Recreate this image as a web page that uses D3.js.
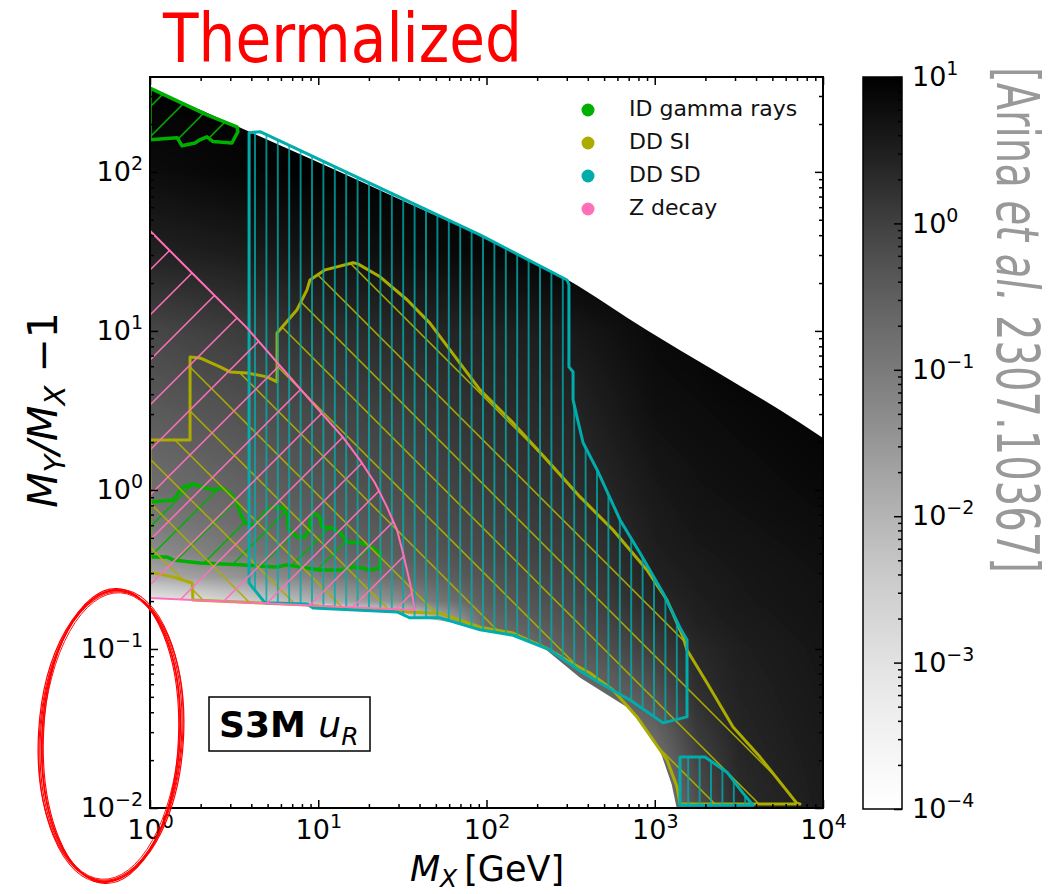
<!DOCTYPE html>
<html>
<head>
<meta charset="utf-8">
<script src="https://cdn.jsdelivr.net/npm/d3@7"></script>
<style>
  body { margin: 0; background: #fff; }
  svg { display: block; }
  text { font-family: "DejaVu Sans", sans-serif; }
</style>
</head>
<body>
<div id="chart-area"></div>
<script>
// axes
const xDomain = [1, 1e4]
const yDomain = [0.01, 395]
const cbDomain = [1e-4, 10]
const xMajor = [1, 10, 100, 1000, 10000]
const yMajor = [0.01, 0.1, 1, 10, 100]
const cbMajor = [1e-4, 1e-3, 1e-2, 1e-1, 1, 10]

// shading: grid in (M_X, M_Y/M_X - 1), values are log10 of the colour quantity
const fieldMx = [1, 3.16, 10, 31.6, 100, 316, 1000, 1778, 3162, 10000]
const fieldMy = [0.01, 0.0178, 0.0316, 0.0562, 0.1, 0.141, 0.2, 0.282, 0.398, 0.631, 1, 3.16, 10, 31.6, 100, 398]
const fieldExp = [
    [-4, -4, -4, -4, -4, -4, -1.2, -0.25, 0.3, 0.55],
    [-4, -4, -4, -4, -4, -4, -0.9, -0.1, 0.35, 0.57],
    [-4, -4, -4, -4, -4, -1.2, -0.6, 0.1, 0.4, 0.6],
    [-4, -4, -4, -4, -1.5, -0.8, -0.25, 0.25, 0.45, 0.62],
    [-4, -4, -4, -4, -1.0, -0.45, 0.05, 0.35, 0.5, 0.65],
    [-4, -4, -4, -3.5, -0.7, -0.3, 0.2, 0.45, 0.55, 0.68],
    [-3.2, -2.6, -1.9, -1.3, -0.45, -0.15, 0.35, 0.5, 0.6, 0.7],
    [-1.85, -1.5, -1.1, -0.7, -0.3, -0.05, 0.45, 0.55, 0.62, 0.72],
    [-1.35, -1.0, -0.7, -0.45, -0.15, 0.05, 0.5, 0.6, 0.65, 0.75],
    [-1.0, -0.75, -0.5, -0.3, -0.05, 0.15, 0.55, 0.65, 0.7, 0.8],
    [-0.8, -0.6, -0.35, -0.2, 0.05, 0.25, 0.6, 0.7, 0.75, 0.85],
    [-0.42, -0.28, -0.1, 0.05, 0.25, 0.4, 0.75, 0.8, 0.85, 0.95],
    [-0.1, 0.05, 0.25, 0.35, 0.45, 0.6, 0.85, 0.9, 1, 1],
    [0.45, 0.55, 0.7, 0.8, 0.9, 1, 1, 1, 1, 1],
    [0.8, 0.9, 1, 1, 1, 1, 1, 1, 1, 1],
    [1, 1, 1, 1, 1, 1, 1, 1, 1, 1]
]

// edges of the shaded (allowed) region
const upperEdge = [[1, 337], [2, 245], [3.93, 178], [10, 115], [31.6, 66], [120, 34.7], [305, 20.9], [900, 10.1], [2220, 5.7], [5550, 3.18], [10000, 2.12]]
const lowerEdge = [[1, 0.209], [10, 0.192], [29, 0.178], [36, 0.16], [93, 0.138], [200, 0.11], [360, 0.066], [713, 0.042], [1075, 0.023], [1260, 0.0141], [1350, 0.01]]

// exclusion contours
const gammaTop = [[1, 337], [2.18, 228], [3.29, 192], [3.33, 179], [3.07, 152], [2.37, 155], [2.18, 166], [1.98, 159], [1.85, 152], [1.55, 146], [1.45, 164], [1, 159]]
const gammaLow = [[1, 0.84], [1.37, 0.865], [1.57, 1.04], [1.8, 1.09], [2.07, 1.04], [2.34, 1.0], [2.68, 1.03], [2.99, 0.957], [3.29, 0.84], [3.43, 0.716], [3.67, 0.62], [4.21, 0.602], [4.63, 0.676], [4.96, 0.748], [5.38, 0.782], [6.18, 0.771], [6.61, 0.676], [6.61, 0.577], [7.48, 0.506], [8.34, 0.506], [8.93, 0.585], [8.93, 0.676], [9.57, 0.716], [10.2, 0.676], [10.5, 0.585], [12.1, 0.577], [13.5, 0.537], [14.8, 0.471], [18.2, 0.464], [21.1, 0.432], [23.3, 0.401], [23.3, 0.323], [20.3, 0.314], [18.2, 0.323], [16.1, 0.328], [13.5, 0.314], [10.2, 0.314], [8.57, 0.323], [6.52, 0.338], [5.69, 0.328], [4.33, 0.333], [3.43, 0.338], [1.98, 0.347], [1.37, 0.363], [1.26, 0.379], [1, 0.379]]
const ddSI = [[1, 2.06], [1.73, 2.06], [1.73, 6.86], [1.98, 6.76], [2.61, 5.94], [2.99, 5.52], [3.77, 5.44], [4.96, 5.14], [5.69, 4.78], [5.69, 9.71], [7.48, 13.6], [8.57, 18.1], [8.93, 20.9], [11.0, 24.2], [16.1, 26.8], [17.2, 26.4], [23.3, 21.9], [33.7, 15.7], [46.1, 11.2], [91.5, 4.26], [144, 2.64], [229, 1.54], [360, 0.904], [565, 0.56], [899, 0.314], [1183, 0.203], [1472, 0.119], [1555, 0.0986], [2046, 0.0611], [2919, 0.0323], [4224, 0.0209], [7000, 0.0107], [7300, 0.0106], [1413, 0.0106], [1356, 0.0136], [1183, 0.02], [977, 0.0268], [784, 0.0374], [565, 0.0552], [412, 0.0706], [313, 0.0828], [238, 0.0986], [144, 0.126], [91.5, 0.137], [52.9, 0.168], [33.7, 0.171], [8.57, 0.189], [1.8, 0.203], [1.78, 0.26], [1.37, 0.284], [1.04, 0.301], [1, 0.301]]
const ddSD = [[3.88, 176], [4.51, 179], [91.5, 40.2], [301, 20.9], [309, 19.5], [309, 5.94], [327, 5.52], [327, 3.68], [345, 2.88], [375, 1.98], [454, 1.34], [622, 0.648], [817, 0.401], [1120, 0.225], [1413, 0.136], [1555, 0.114], [1555, 0.0374], [1120, 0.0343], [713, 0.0478], [520, 0.0577], [375, 0.0706], [238, 0.0986], [144, 0.122], [91.5, 0.132], [52.9, 0.157], [35.1, 0.157], [29.4, 0.171], [9.31, 0.181], [8.57, 0.192], [4.83, 0.195], [3.88, 0.26]]
const ddSDLow = [[1413, 0.0209], [1990, 0.0209], [2687, 0.0168], [3347, 0.0124], [3839, 0.0104], [1413, 0.0104]]
const zDecay = [[1, 42.6], [1.93, 21.2], [3.72, 10.6], [8.11, 4.13], [10.7, 2.96], [14.0, 2.15], [17.7, 1.54], [21.7, 1.11], [25.6, 0.782], [29.4, 0.56], [31.9, 0.401], [35.1, 0.26], [37.6, 0.176], [7.8, 0.189], [1, 0.209]]

const legendNames = ['ID gamma rays', 'DD SI', 'DD SD', 'Z decay']
const legendColours = ['#00b000', '#acac00', '#00acac', '#ff70b8']

const margin = { left: 150, top: 77 }
const width = 673
const height = 731

const svg = d3.select('#chart-area').append('svg')
    .attr('width', 1060)
    .attr('height', 894)
const defs = svg.append('defs')

const plot = svg.append('g')
    .attr('transform', `translate(${margin.left}, ${margin.top})`)

const x = d3.scaleLog().domain(xDomain).range([0, width])
const y = d3.scaleLog().domain(yDomain).range([height, 0])
const colour = d3.scaleSequentialLog(d3.interpolateGreys).domain(cbDomain).clamp(true)
const line = d3.line().x(d => x(d[0])).y(d => y(d[1]))
const smoothLine = d3.line().x(d => x(d[0])).y(d => y(d[1])).curve(d3.curveMonotoneX)

// ---- shaded field, bilinear over the grid, painted on a canvas
const gx = fieldMx.map(Math.log10)
const gy = fieldMy.map(Math.log10)
function cell(grid, v) {
    let k = d3.bisectRight(grid, v) - 1
    k = Math.max(0, Math.min(grid.length - 2, k))
    const f = (v - grid[k]) / (grid[k + 1] - grid[k])
    return [k, Math.max(0, Math.min(1, f))]
}
const lut = d3.range(256).map(k => d3.rgb(colour(Math.pow(10, -4 + 5 * k / 255))))
const cols = d3.range(width).map(i => cell(gx, Math.log10(x.invert(i + 0.5))))

const canvas = document.createElement('canvas')
canvas.width = width
canvas.height = height
const ctx = canvas.getContext('2d')
const img = ctx.createImageData(width, height)
for (let j = 0; j < height; j++) {
    const [r, fy] = cell(gy, Math.log10(y.invert(j + 0.5)))
    const lo = fieldExp[r], hi = fieldExp[r + 1]
    for (let i = 0; i < width; i++) {
        const [c, fx] = cols[i]
        const e = (1 - fy) * ((1 - fx) * lo[c] + fx * lo[c + 1]) + fy * ((1 - fx) * hi[c] + fx * hi[c + 1])
        const k = Math.max(0, Math.min(255, Math.round((e + 4) / 5 * 255)))
        const p = (j * width + i) * 4
        img.data[p] = lut[k].r
        img.data[p + 1] = lut[k].g
        img.data[p + 2] = lut[k].b
        img.data[p + 3] = 255
    }
}
ctx.putImageData(img, 0, 0)

// allowed region: smooth upper edge, then down the right side and back along the lower edge
const lowerBack = [[xDomain[1], yDomain[0]]].concat(lowerEdge.slice().reverse())
defs.append('clipPath').attr('id', 'allowed')
    .append('path')
    .attr('d', smoothLine(upperEdge) + line(lowerBack).replace(/^M/, 'L') + 'Z')
defs.append('clipPath').attr('id', 'plot-clip')
    .append('rect').attr('width', width).attr('height', height)

plot.append('image')
    .attr('href', canvas.toDataURL())
    .attr('width', width)
    .attr('height', height)
    .attr('preserveAspectRatio', 'none')
    .attr('clip-path', 'url(#allowed)')

// ---- hatch patterns
function addHatch(id, col, kind, s, phase) {
    const h = kind === '|' ? 10 : s
    const p = defs.append('pattern').attr('id', id)
        .attr('patternUnits', 'userSpaceOnUse')
        .attr('width', s).attr('height', h)
        .attr('x', phase).attr('y', 0)
    let d
    if (kind === '/') d = `M0,${s}L${s},0M${-s / 2},${s / 2}L${s / 2},${-s / 2}M${s / 2},${1.5 * s}L${1.5 * s},${s / 2}`
    else if (kind === '\\') d = `M0,0L${s},${s}M${-s / 2},${s / 2}L${s / 2},${1.5 * s}M${s / 2},${-s / 2}L${1.5 * s},${s / 2}`
    else d = `M${s / 2},0V${h}`
    p.append('path').attr('d', d)
        .attr('stroke', col).attr('stroke-width', 1.5).attr('fill', 'none')
}
addHatch('hatch-gamma', legendColours[0], '/', 30, 0)
addHatch('hatch-si', legendColours[1], '\\', 44, 14)
addHatch('hatch-sd', legendColours[2], '|', 11.4, 99.3)
addHatch('hatch-z', legendColours[3], '/', 45, 13)

const contours = [
    { polys: [gammaTop, gammaLow], hatch: 'hatch-gamma', col: legendColours[0], w: 3.5 },
    { polys: [ddSI], hatch: 'hatch-si', col: legendColours[1], w: 3 },
    { polys: [ddSD, ddSDLow], hatch: 'hatch-sd', col: legendColours[2], w: 3 },
    { polys: [zDecay], hatch: 'hatch-z', col: legendColours[3], w: 2 }
]

const layer = plot.append('g').attr('clip-path', 'url(#plot-clip)')
contours.forEach(c => {
    layer.selectAll(null).data(c.polys).enter()
        .append('path')
        .attr('d', d => line(d) + 'Z')
        .attr('fill', `url(#${c.hatch})`)
        .attr('stroke', c.col)
        .attr('stroke-width', c.w)
        .attr('stroke-linejoin', 'round')
})

// ---- axes, ticks pointing inwards
function powerLabel(text) {
    text.each(function (d) {
        const e = Math.round(Math.log10(d))
        const t = d3.select(this).text(null)
        t.append('tspan').text('10')
        t.append('tspan').attr('dy', -11).attr('font-size', 19)
            .text(e < 0 ? '\u2212' + (-e) : String(e))
    })
}
const isMinor = v => Math.abs(Math.log10(v) - Math.round(Math.log10(v))) > 1e-6

function addAxis(parent, gen, shift, major, minorVals, labelled, pad) {
    const gMinor = parent.append('g').attr('transform', shift)
        .call(gen.tickValues(minorVals).tickSize(-4).tickFormat(''))
    const gMajor = parent.append('g').attr('transform', shift)
        .call(gen.tickValues(major).tickSize(-8).tickPadding(pad).tickFormat(labelled ? (d => d) : ''))
    for (const g of [gMinor, gMajor]) {
        g.select('.domain').remove()
        g.selectAll('line').attr('stroke-width', 1.5)
        g.attr('font-size', 27).attr('font-family', 'DejaVu Sans')
    }
    if (labelled) gMajor.selectAll('.tick text').attr('fill', '#000').call(powerLabel)
}

const xMinor = x.ticks().filter(isMinor)
const yMinor = y.ticks().filter(isMinor)
addAxis(plot, d3.axisBottom(x), `translate(0, ${height})`, xMajor, xMinor, true, 12)
addAxis(plot, d3.axisTop(x), 'translate(0, 0)', xMajor, xMinor, false, 0)
addAxis(plot, d3.axisLeft(y), 'translate(0, 0)', yMajor, yMinor, true, 7)
addAxis(plot, d3.axisRight(y), `translate(${width}, 0)`, yMajor, yMinor, false, 0)

plot.append('rect')
    .attr('width', width)
    .attr('height', height)
    .attr('fill', 'none')
    .attr('stroke', '#000')
    .attr('stroke-width', 2)

// ---- legend
const legend = plot.append('g').attr('transform', 'translate(438, 33)')
const items = legend.selectAll('g').data(legendNames).enter()
    .append('g')
    .attr('transform', (_, i) => `translate(0, ${i * 33})`)
items.append('circle')
    .attr('r', 6.5)
    .attr('fill', (_, i) => legendColours[i])
items.append('text')
    .attr('x', 41)
    .attr('y', 6)
    .attr('font-size', 22)
    .attr('fill', '#111')
    .text(d => d)

// ---- model label box
const tag = plot.append('g').attr('transform', 'translate(59, 620)')
tag.append('rect')
    .attr('width', 161)
    .attr('height', 54)
    .attr('fill', '#fff')
    .attr('stroke', '#000')
    .attr('stroke-width', 1.5)
const tagText = tag.append('text').attr('x', 10).attr('y', 40).attr('font-size', 36)
tagText.append('tspan').attr('font-weight', 'bold').text('S3M ')
tagText.append('tspan').attr('font-style', 'italic').text('u')
tagText.append('tspan').attr('font-style', 'italic').attr('font-size', 25).attr('dy', 8).text('R')

// ---- axis titles
const xTitle = svg.append('text')
    .attr('x', 487)
    .attr('y', 881)
    .attr('text-anchor', 'middle')
    .attr('font-size', 35)
xTitle.append('tspan').attr('font-style', 'italic').text('M')
xTitle.append('tspan').attr('font-style', 'italic').attr('font-size', 25).attr('dy', 6).text('X')
xTitle.append('tspan').attr('dy', -6).text('\u2009[GeV]')

const yTitle = svg.append('text')
    .attr('transform', 'translate(57, 410) rotate(-90)')
    .attr('text-anchor', 'middle')
    .attr('font-size', 41)
yTitle.append('tspan').attr('font-style', 'italic').text('M')
yTitle.append('tspan').attr('font-style', 'italic').attr('font-size', 29).attr('dy', 8).text('Y')
yTitle.append('tspan').attr('font-style', 'italic').attr('dy', -8).text('/M')
yTitle.append('tspan').attr('font-style', 'italic').attr('font-size', 29).attr('dy', 8).text('X')
yTitle.append('tspan').attr('dy', -8).text(' \u22121')

// ---- colour bar
const cbW = 39
const cbH = 732
const cb = svg.append('g').attr('transform', 'translate(863, 77)')
const cbScale = d3.scaleLog().domain(cbDomain).range([cbH, 0])
const grad = defs.append('linearGradient').attr('id', 'cb-grad')
    .attr('x1', 0).attr('y1', 1).attr('x2', 0).attr('y2', 0)
grad.selectAll('stop').data(d3.range(0, 1.0001, 0.05)).enter()
    .append('stop')
    .attr('offset', t => t)
    .attr('stop-color', t => colour(Math.pow(10, -4 + 5 * t)))
cb.append('rect')
    .attr('width', cbW)
    .attr('height', cbH)
    .attr('fill', 'url(#cb-grad)')
addAxis(cb, d3.axisRight(cbScale), `translate(${cbW}, 0)`, cbMajor, cbScale.ticks().filter(isMinor), true, 10)
cb.append('rect')
    .attr('width', cbW)
    .attr('height', cbH)
    .attr('fill', 'none')
    .attr('stroke', '#000')
    .attr('stroke-width', 1.5)

// ---- title and reference
svg.append('text')
    .attr('x', 163)
    .attr('y', 62)
    .attr('font-family', 'Lato')
    .attr('font-size', 68)
    .attr('fill', '#ff0000')
    .attr('textLength', 359)
    .attr('lengthAdjust', 'spacingAndGlyphs')
    .text('Thermalized')

const ref = svg.append('text')
    .attr('transform', 'translate(997, 67) rotate(90)')
    .attr('font-family', 'Lato')
    .attr('font-size', 58)
    .attr('fill', '#999')
    .attr('textLength', 506)
    .attr('lengthAdjust', 'spacingAndGlyphs')
ref.append('tspan').text('[Arina ')
ref.append('tspan').attr('font-style', 'italic').text('et al.')
ref.append('tspan').text(' 2307.10367]')

// ---- hand-drawn ring round the lower y labels
const ring = svg.append('g').attr('fill', 'none').attr('stroke', '#ff0000')
const strokes = [[0, 0, 0, 1.6], [1.5, -1.5, 0.6, 1.1], [-1.5, 1.5, -0.6, 1.1], [2.5, 1, 1, 1], [3.5, -0.5, 0.3, 1.2], [-0.8, -2.5, 0.8, 0.9]]
ring.selectAll('ellipse').data(strokes).enter()
    .append('ellipse')
    .attr('cx', 0)
    .attr('cy', 0)
    .attr('rx', d => 69 + d[0])
    .attr('ry', d => 146 + d[1])
    .attr('transform', d => `translate(111, 736) rotate(${3 + d[2]})`)
    .attr('stroke-width', d => d[3])
</script>
</body>
</html>
